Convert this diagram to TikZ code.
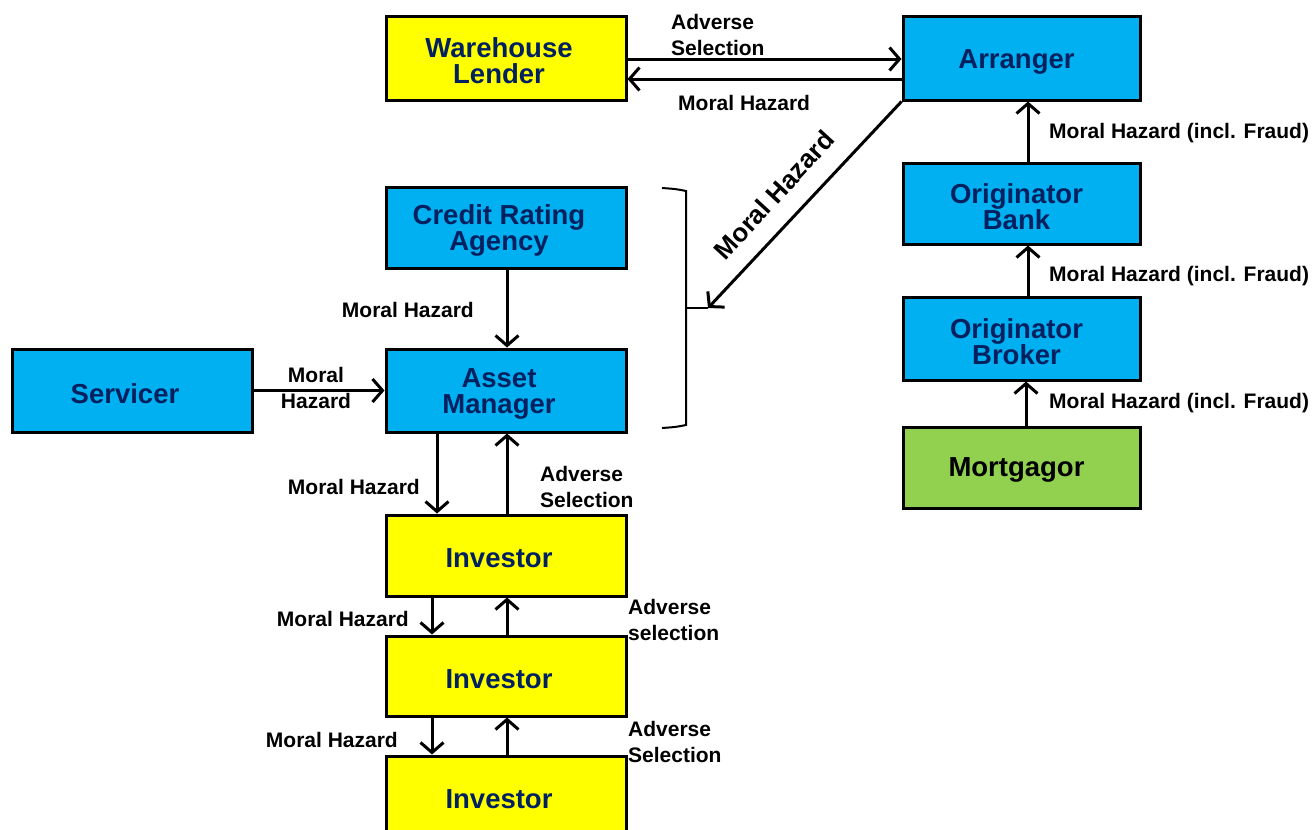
\documentclass[tikz,border=0pt]{standalone}
\usepackage{fontspec}
\setmainfont{Liberation Sans}
\usetikzlibrary{arrows.meta,calc}
\definecolor{boxyellow}{RGB}{255,255,0}
\definecolor{boxblue}{RGB}{0,176,240}
\definecolor{boxgreen}{RGB}{146,208,80}
\definecolor{navytext}{RGB}{0,32,96}
\begin{document}
\begin{tikzpicture}[x=1pt,y=-1pt,
  party/.style={draw=black,line width=3pt,inner sep=0pt,minimum width=240pt},
  yel/.style={party,fill=boxyellow},
  blu/.style={party,fill=boxblue},
  grn/.style={party,fill=boxgreen},
  boxname/.style={inner sep=0pt,align=center,text=navytext,
    font=\fontsize{27.5}{26}\selectfont\bfseries},
  arr/.style={line width=3pt,-{Straight Barb[length=10pt,width=23pt]}},
  lbl/.style={font=\fontsize{21}{26}\selectfont\bfseries,align=left,inner sep=0pt}]
\useasboundingbox (0,0) rectangle (1312,830);
\clip (0,0) rectangle (1312,830);

% left column boxes
\node[yel,minimum height=84pt] (wl)   at (506,58)    {};
\node[blu,minimum height=81pt] (cra)  at (506,227.5) {};
\node[blu,minimum height=83pt] (serv) at (132,390.5) {};
\node[blu,minimum height=83pt] (am)   at (506,390.5) {};
\node[yel,minimum height=81pt] (inv1) at (506,555.5) {};
\node[yel,minimum height=80pt] (inv2) at (506,676)   {};
\node[yel,minimum height=81pt] (inv3) at (506,796.5) {};

% right column boxes
\node[blu,minimum width=237pt,minimum height=84pt] (arr)  at (1021.5,58)    {};
\node[blu,minimum width=237pt,minimum height=81pt] (ob)   at (1021.5,203.5) {};
\node[blu,minimum width=237pt,minimum height=83pt] (obr)  at (1021.5,338.5) {};
\node[grn,minimum width=237pt,minimum height=81pt] (mort) at (1021.5,467.5) {};

% box names, set a little left of and below each centre
\node[boxname] (twl)   at ($(wl)+(-7,3)$)   {Warehouse\\Lender};
\node[boxname] (tcra)  at ($(cra)+(-7,3)$)  {Credit Rating\\Agency};
\node[boxname] (tserv) at ($(serv)+(-7,3)$) {Servicer};
\node[boxname] (tam)   at ($(am)+(-7,3)$)   {Asset\\Manager};
\node[boxname] (tinv1) at ($(inv1)+(-7,3)$) {Investor};
\node[boxname] (tinv2) at ($(inv2)+(-7,3)$) {Investor};
\node[boxname] (tinv3) at ($(inv3)+(-7,3)$) {Investor};
\node[boxname] (tarr)  at ($(arr)+(-5,4)$)  {Arranger};
\node[boxname] (tob)   at ($(ob)+(-5,3)$)   {Originator\\Bank};
\node[boxname] (tobr)  at ($(obr)+(-5,3)$)  {Originator\\Broker};
\node[boxname,text=black] (tmort) at ($(mort)+(-5,2)$) {Mortgagor};

% warehouse lender <-> arranger
\draw[arr] ($(wl.east)+(0,1)$) -- ($(arr.west)+(0,1)$);
\draw[arr] ($(arr.west)+(0,21)$) -- ($(wl.east)+(0,21)$);
\node[lbl,anchor=west] (l1) at (671,35) {Adverse\\Selection};
\node[lbl,anchor=west] (l2) at (678,103) {Moral Hazard};

% arranger -> bracketed group
\coordinate (brk) at (708,308);
\draw[line width=2pt] (662,188) .. controls (676,189) .. (686,191) -- (686,308) -- (686,425)
  .. controls (676,427) .. (662,428);
\draw[line width=2pt] (686,308) -- (brk);
\draw[arr] (arr.south west) -- (brk);
\node[font=\fontsize{26}{26}\selectfont\bfseries,rotate=47.5,inner sep=0pt] (l3) at (774,195) {Moral Hazard};

% into the asset manager
\draw[arr] ($(cra.south)+(1,0)$) -- ($(am.north)+(1,0)$);
\node[lbl,anchor=east] (l4) at (474,310) {Moral Hazard};
\draw[arr] (serv.east) -- (am.west);
\node[lbl,align=center] (l5) at (316,388) {Moral\\Hazard};

% asset manager <-> investors
\draw[arr] ($(am.south)+(-69,0)$) -- ($(inv1.north)+(-69,0)$);
\draw[arr] ($(inv1.north)+(1,0)$) -- ($(am.south)+(1,0)$);
\node[lbl,anchor=east] (l6) at (420,487) {Moral Hazard};
\node[lbl,anchor=west] (l7) at (540,487) {Adverse\\Selection};

\draw[arr] ($(inv1.south)+(-74,0)$) -- ($(inv2.north)+(-74,0)$);
\draw[arr] ($(inv2.north)+(1,0)$) -- ($(inv1.south)+(1,0)$);
\node[lbl,anchor=east] (l8) at (409,619) {Moral Hazard};
\node[lbl,anchor=west] (l9) at (628,620) {Adverse\\selection};

\draw[arr] ($(inv2.south)+(-74,0)$) -- ($(inv3.north)+(-74,0)$);
\draw[arr] ($(inv3.north)+(1,0)$) -- ($(inv2.south)+(1,0)$);
\node[lbl,anchor=east] (l10) at (398,740) {Moral Hazard};
\node[lbl,anchor=west] (l11) at (628,742) {Adverse\\Selection};

% originator chain
\draw[arr] ($(ob.north)+(6.5,0)$) -- ($(arr.south)+(6.5,0)$);
\draw[arr] ($(obr.north)+(6.5,0)$) -- ($(ob.south)+(6.5,0)$);
\draw[arr] ($(mort.north)+(4.5,0)$) -- ($(obr.south)+(4.5,0)$);
\node[lbl,anchor=west] (l12) at (1049,133) {Moral Hazard (incl. Fraud)};
\node[lbl,anchor=west] (l13) at (1049,276) {Moral Hazard (incl. Fraud)};
\node[lbl,anchor=west] (l14) at (1049,403) {Moral Hazard (incl. Fraud)};
\end{tikzpicture}
\end{document}
